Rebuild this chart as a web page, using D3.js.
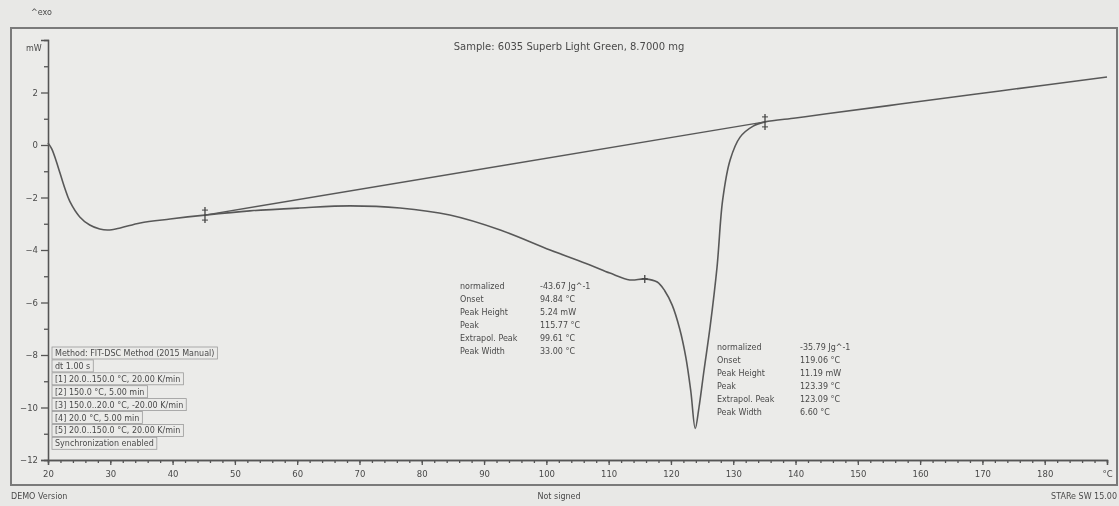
<!DOCTYPE html>
<html>
<head>
<meta charset="utf-8">
<script src="https://cdn.jsdelivr.net/npm/d3@7"></script>
<style>
  body { margin: 0; background: #e8e8e6; }
  svg { display: block; font-family: "DejaVu Sans", sans-serif; }
</style>
</head>
<body>
<svg id="chart" width="1119" height="506"></svg>
<script>
// DSC curve: temperature (°C) and heat flow (mW)
var temperature = [20, 20.6, 21.3, 21.9, 22.7, 23.5, 25.1, 26.7, 28.3, 29.6, 31.6, 34.8, 39.6, 45.2,
  52.4, 60.4, 68.5, 76.5, 84.5, 92.6, 100.6, 107, 110.2, 113.4, 115.8, 117.8, 119, 120.2, 121.4,
  122.4, 123.2, 123.9, 124.5, 125.3, 126.3, 127.4, 128.3, 129.5, 131.1, 133.2, 135.1, 140, 145, 156.8, 172.8, 190];
var heatFlow = [0.08, -0.15, -0.6, -1.05, -1.65, -2.15, -2.74, -3.05, -3.2, -3.24, -3.16, -2.97, -2.82, -2.67,
  -2.51, -2.4, -2.32, -2.4, -2.67, -3.24, -4.0, -4.57, -4.88, -5.14, -5.1, -5.22, -5.55, -6.1, -7.0,
  -8.1, -9.4, -10.8, -10.0, -8.6, -6.9, -4.65, -2.1, -0.57, 0.3, 0.72, 0.88, 1.03, 1.19, 1.56, 2.06, 2.59];

// integration baseline limits and the first peak mark
var baselineT = [45.2, 135.1];
var baselineMW = [-2.67, 0.88];
var peakMarkT = [115.8];
var peakMarkMW = [-5.1];

var yMajorTicks = [-12, -10, -8, -6, -4, -2, 0, 2];
var yMinorTicks = [-11, -9, -7, -5, -3, -1, 1, 3];
var xMajorTicks = [20, 30, 40, 50, 60, 70, 80, 90, 100, 110, 120, 130, 140, 150, 160, 170, 180, 190];
var xMinorTicks = d3.range(20, 191, 2);

var title = 'Sample: 6035 Superb Light Green, 8.7000 mg';
var methodLines = ['Method: FIT-DSC Method (2015 Manual)', 'dt 1.00 s',
  '[1] 20.0..150.0 °C, 20.00 K/min', '[2] 150.0 °C, 5.00 min', '[3] 150.0..20.0 °C, -20.00 K/min',
  '[4] 20.0 °C, 5.00 min', '[5] 20.0..150.0 °C, 20.00 K/min', 'Synchronization enabled'];

var peak1Labels = ['normalized', 'Onset', 'Peak Height', 'Peak', 'Extrapol. Peak', 'Peak Width'];
var peak1Values = ['-43.67 Jg^-1', '94.84 °C', '5.24 mW', '115.77 °C', '99.61 °C', '33.00 °C'];
var peak2Labels = ['normalized', 'Onset', 'Peak Height', 'Peak', 'Extrapol. Peak', 'Peak Width'];
var peak2Values = ['-35.79 Jg^-1', '119.06 °C', '11.19 mW', '123.39 °C', '123.09 °C', '6.60 °C'];

var svg = d3.select('#chart');
var ink = '#4a4a4a';

// the reference is a soft scan, so everything gets a faint blur
svg.append('defs').append('filter').attr('id', 'soft')
  .append('feGaussianBlur').attr('stdDeviation', 0.45);
var root = svg.append('g').attr('filter', 'url(#soft)');

var x = d3.scaleLinear().domain([20, 190]).range([48, 1107]);
var y = d3.scaleLinear().domain([-12, 4]).range([460, 40]);

// outer frame
root.append('rect')
  .attr('x', 11).attr('y', 28).attr('width', 1106).attr('height', 457)
  .attr('fill', '#ebebe9').attr('stroke', '#7a7a7a').attr('stroke-width', 2);

root.append('text').attr('x', 31).attr('y', 15).attr('font-size', 8).attr('fill', ink).text('^exo');
root.append('text').attr('x', 26).attr('y', 51).attr('font-size', 8).attr('fill', ink).text('mW');

// axes
var yMinor = root.append('g').attr('transform', 'translate(48,0)')
  .call(d3.axisLeft(y).tickValues(yMinorTicks).tickSize(4).tickFormat(''));
var yMajor = root.append('g').attr('transform', 'translate(48,0)')
  .call(d3.axisLeft(y).tickValues(yMajorTicks).tickSize(7).tickPadding(3));

var xMinor = root.append('g').attr('transform', 'translate(0,460)')
  .call(d3.axisBottom(x).tickValues(xMinorTicks).tickSize(3).tickFormat(''));
var xMajor = root.append('g').attr('transform', 'translate(0,460)')
  .call(d3.axisBottom(x).tickValues(xMajorTicks).tickSize(5).tickPadding(6)
    .tickFormat(d => d === 190 ? '°C' : d));

[yMinor, yMajor, xMinor, xMajor].forEach(g => {
  g.selectAll('path, line').attr('stroke', '#555').attr('stroke-width', 1.3);
  g.selectAll('text').attr('fill', ink).attr('font-size', 8.5).attr('font-family', '"DejaVu Sans", sans-serif');
});

// title
root.append('text').attr('x', 569).attr('y', 50).attr('text-anchor', 'middle')
  .attr('font-size', 10).attr('fill', ink).text(title);

// curve
var points = temperature.map((t, i) => [t, heatFlow[i]]);
var line = d3.line().x(d => x(d[0])).y(d => y(d[1])).curve(d3.curveCatmullRom.alpha(0.5));
root.append('path').datum(points).attr('d', line)
  .attr('fill', 'none').attr('stroke', '#595959').attr('stroke-width', 1.6);

// baseline
root.append('line')
  .attr('x1', x(baselineT[0])).attr('y1', y(baselineMW[0]))
  .attr('x2', x(baselineT[1])).attr('y2', y(baselineMW[1]))
  .attr('stroke', '#595959').attr('stroke-width', 1.4);

// limit marks
baselineT.forEach((t, i) => {
  var cx = x(t), cy = y(baselineMW[i]);
  root.append('line').attr('x1', cx).attr('x2', cx).attr('y1', cy - 8).attr('y2', cy + 8)
    .attr('stroke', '#444').attr('stroke-width', 1.3);
  [-5, 5].forEach(dy => root.append('line').attr('x1', cx - 3).attr('x2', cx + 3)
    .attr('y1', cy + dy).attr('y2', cy + dy).attr('stroke', '#444').attr('stroke-width', 1));
});
peakMarkT.forEach((t, i) => {
  var cx = x(t), cy = y(peakMarkMW[i]);
  root.append('line').attr('x1', cx).attr('x2', cx).attr('y1', cy - 4).attr('y2', cy + 4)
    .attr('stroke', '#444').attr('stroke-width', 1.3);
  root.append('line').attr('x1', cx - 3).attr('x2', cx + 3).attr('y1', cy).attr('y2', cy)
    .attr('stroke', '#444').attr('stroke-width', 1.3);
});

// evaluation result tables
function resultTable(labels, values, x0, x1, y0) {
  var g = root.append('g').attr('font-size', 8).attr('fill', ink);
  labels.forEach((l, i) => {
    g.append('text').attr('x', x0).attr('y', y0 + i * 13).text(l);
    g.append('text').attr('x', x1).attr('y', y0 + i * 13).text(values[i]);
  });
}
resultTable(peak1Labels, peak1Values, 460, 540, 289);
resultTable(peak2Labels, peak2Values, 717, 800, 350);

// method box
var mg = root.append('g');
methodLines.forEach((l, i) => {
  var ty = 356 + i * 12.9;
  var t = mg.append('text').attr('x', 55).attr('y', ty).attr('font-size', 8).attr('fill', ink).text(l);
  var w = t.node().getComputedTextLength();
  mg.insert('rect', 'text').attr('x', 52).attr('y', ty - 9).attr('width', w + 6).attr('height', 12)
    .attr('fill', 'none').attr('stroke', '#9a9a9a').attr('stroke-width', 0.8);
});

// footer
root.append('text').attr('x', 11).attr('y', 499).attr('font-size', 8).attr('fill', ink).text('DEMO Version');
root.append('text').attr('x', 559).attr('y', 499).attr('text-anchor', 'middle').attr('font-size', 8).attr('fill', ink).text('Not signed');
root.append('text').attr('x', 1117).attr('y', 499).attr('text-anchor', 'end').attr('font-size', 8).attr('fill', ink).text('STARe SW 15.00');
</script>
</body>
</html>
